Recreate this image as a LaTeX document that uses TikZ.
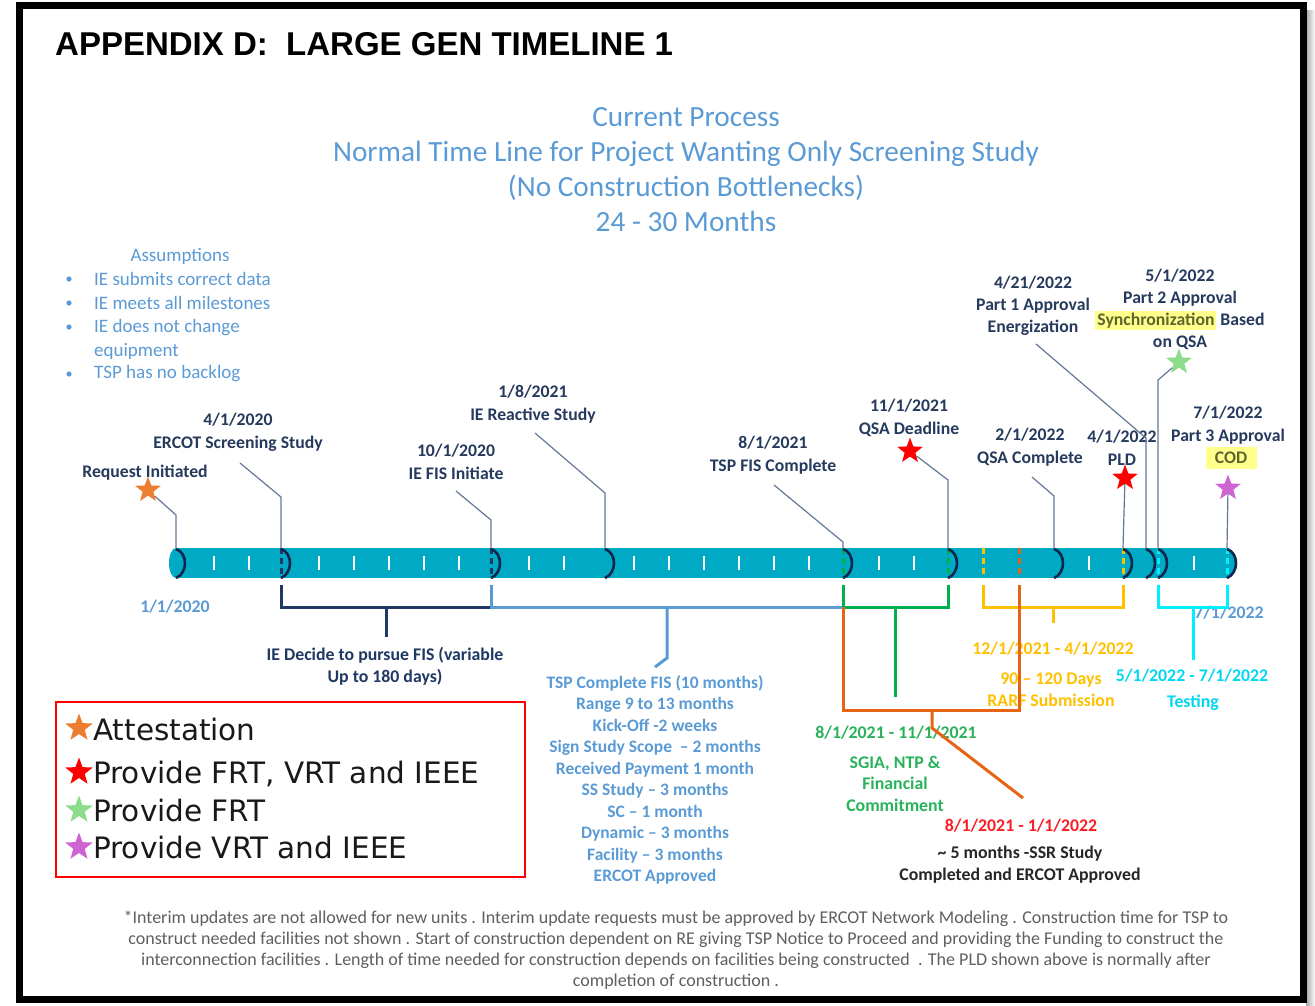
\documentclass[tikz,border=0pt]{standalone}
\usepackage{fontspec}
\setmainfont{Carlito}
\newfontfamily\headfont{Liberation Sans}
\newfontfamily\keyfont{DejaVu Sans}
\usetikzlibrary{shapes.geometric}

\definecolor{ltblue}{RGB}{91,155,213}
\definecolor{labelnavy}{RGB}{38,58,94}
\definecolor{leadgray}{RGB}{100,120,150}
\definecolor{barteal}{RGB}{0,170,196}
\definecolor{arcnavy}{RGB}{18,38,78}
\definecolor{brnavy}{RGB}{31,56,100}
\definecolor{brgreen}{RGB}{0,176,80}
\definecolor{txtgreen}{RGB}{40,178,90}
\definecolor{brorange}{RGB}{230,100,20}
\definecolor{bryellow}{RGB}{255,192,0}
\definecolor{brcyan}{RGB}{0,240,255}
\definecolor{txtcyan}{RGB}{0,215,240}
\definecolor{txtred}{RGB}{250,30,40}
\definecolor{starorange}{RGB}{237,125,49}
\definecolor{stargreen}{RGB}{140,220,140}
\definecolor{starpink}{RGB}{205,100,210}
\definecolor{hilite}{RGB}{255,255,140}
\definecolor{olivetxt}{RGB}{95,100,45}
\definecolor{notegray}{RGB}{95,95,95}

\begin{document}
\begin{tikzpicture}[x=1pt,y=-1pt]
        \tikzstyle{mlabel} = [text=labelnavy,font=\bfseries\fontsize{17.7}{23}\selectfont,align=center,inner sep=0pt]
        \tikzstyle{rangelbl} = [font=\bfseries\fontsize{17.8}{21.5}\selectfont,align=center,inner sep=0pt]
        \tikzstyle{assume} = [font=\fontsize{19}{24}\selectfont,text=ltblue,align=left,inner sep=0pt]
        \tikzstyle{leader} = [draw=leadgray,line width=1.2pt]
        \tikzstyle{starmark} = [star,star points=5,star point ratio=2.4,minimum size=27pt,inner sep=0pt]
        \tikzstyle{arcmark} = [draw=arcnavy,line width=2.6pt]
        \tikzstyle{tickmark} = [draw=white,line width=1.2pt]
        \tikzstyle{bardash} = [line width=3pt,dash pattern=on 6pt off 4pt]
        \tikzstyle{bracket} = [line width=3pt]
        \tikzstyle{keytext} = [font=\keyfont\fontsize{29.5}{31}\selectfont,text=black!90,inner sep=0pt,anchor=base west]

        \useasboundingbox (0,0) rectangle (1315,1005);
        \fill[white] (0,0) rectangle (1315,1005);
        \shade[left color=gray!70,right color=white] (1306,10) rectangle (1315,1005);
        \draw[line width=7pt] (19,5.5) rectangle (1303,999.5);

        \node[anchor=base west,inner sep=0pt,font=\headfont\bfseries\fontsize{33}{36}\selectfont] (title) at (55,55) {APPENDIX D:\ \ LARGE GEN TIMELINE 1};
        \node[font=\fontsize{29.3}{35}\selectfont,text=ltblue,align=center,inner sep=0pt] (subtitle) at (686,170) {Current Process\\Normal Time Line for Project Wanting Only Screening Study\\(No Construction Bottlenecks)\\24 - 30 Months};

        \node[assume] (asmhead) at (180,256) {Assumptions};
        \node[assume,anchor=west] (asm1) at (94,279) {IE submits correct data};
        \node[assume,anchor=west] (asm2) at (94,303) {IE meets all milestones};
        \node[assume,anchor=west] (asm3) at (94,339) {IE does not change\\equipment};
        \node[assume,anchor=west] (asm4) at (94,374) {TSP has no backlog};
        \foreach \yy in {279,303,327,374}
            \fill[ltblue] (69,\yy) circle (2.6);

        \coordinate (t0) at (176,548);
        \coordinate (t3) at (281,548);
        \coordinate (t9) at (491,548);
        \coordinate (t12) at (605,548);
        \coordinate (t19) at (843,548);
        \coordinate (t22) at (948,548);
        \coordinate (t23) at (983,548);
        \coordinate (t24) at (1019,548);
        \coordinate (t25) at (1054,548);
        \coordinate (t27) at (1123,548);
        \coordinate (t27b) at (1146,548);
        \coordinate (t28) at (1158,548);
        \coordinate (t30) at (1227,548);

        \fill[barteal] (176,548) rectangle (1227,578);
        \fill[barteal] (176,563) ellipse (7 and 15);
        \fill[barteal] (1227,548) .. controls (1240,552) and (1240,574) .. (1227,578) -- cycle;
        \foreach \m in {1,2,4,5,6,7,8,10,11,13,14,15,16,17,18,20,21,26,29}
            \draw[tickmark] ({179+35*\m},556) -- ({179+35*\m},570);
        \draw[bardash,draw=brnavy] (t3) -- ++(0,30);
        \draw[bardash,draw=brnavy] (t9) -- ++(0,30);
        \draw[bardash,draw=brgreen] (t19) -- ++(0,30);
        \draw[bardash,draw=brgreen] (t22) -- ++(0,30);
        \draw[bardash,draw=bryellow] (t23) -- ++(0,30);
        \draw[bardash,draw=brorange] (t24) -- ++(0,30);
        \draw[bardash,draw=bryellow] (t27) -- ++(0,30);
        \draw[bardash,draw=brcyan] (t28) -- ++(0,30);
        \draw[bardash,draw=brcyan] (t30) -- ++(0,30);
        \foreach \x in {176,281,491,605,843,948,1054,1123,1146,1158,1227}
            \draw[arcmark] (\x,549) .. controls ({\x+12},553) and ({\x+12},573) .. (\x,578);

        \node[mlabel] (reqlbl) at (145,473) {Request Initiated};
        \node[starmark,fill=starorange] (reqstar) at (148,490) {};
        \coordinate (reqbend) at (176,515);
        \draw[leader] (reqstar) -- (reqbend) -- (t0);

        \node[mlabel] (ercotlbl) at (238,432.5) {4/1/2020\\ERCOT Screening Study};
        \coordinate (ercotfoot) at (240,463);
        \coordinate (ercotbend) at (281,497);
        \draw[leader] (ercotfoot) -- (ercotbend) -- (t3);

        \node[mlabel] (iefislbl) at (456,461.5) {10/1/2020\\IE FIS Initiate};
        \coordinate (iefisfoot) at (456,491);
        \coordinate (iefisbend) at (491,520);
        \draw[leader] (iefisfoot) -- (iefisbend) -- (t9);

        \node[mlabel] (reactlbl) at (533,404.5) {1/8/2021\\IE Reactive Study};
        \coordinate (reactfoot) at (535,433);
        \coordinate (reactbend) at (605,493);
        \draw[leader] (reactfoot) -- (reactbend) -- (t12);

        \node[mlabel] (tspfislbl) at (773,455.5) {8/1/2021\\TSP FIS Complete};
        \coordinate (tspfisfoot) at (774,485);
        \coordinate (tspfisbend) at (843,542);
        \draw[leader] (tspfisfoot) -- (tspfisbend) -- (t19);

        \node[mlabel] (qsadllbl) at (909,418) {11/1/2021\\QSA Deadline};
        \node[starmark,fill=red] (qsadlstar) at (910,451) {};
        \coordinate (qsadlbend) at (948,480);
        \draw[leader] (qsadlstar) -- (qsadlbend) -- (t22);

        \node[mlabel] (qsaclbl) at (1030,447.5) {2/1/2022\\QSA Complete};
        \coordinate (qsacfoot) at (1032,477);
        \coordinate (qsacbend) at (1054,496);
        \draw[leader] (qsacfoot) -- (qsacbend) -- (t25);

        \node[mlabel] (pldlbl) at (1122,447.5) {4/1/2022\\PLD};
        \node[starmark,fill=red] (pldstar) at (1125,478) {};
        \draw[leader] (pldstar) -- (t27);

        \node[mlabel,font=\bfseries\fontsize{17.7}{22}\selectfont] (part1lbl) at (1033,305.5) {4/21/2022\\Part 1 Approval\\Energization};
        \coordinate (part1foot) at (1036,344);
        \coordinate (part1bend) at (1146,438);
        \draw[leader] (part1foot) -- (part1bend) -- (t27b);

        \node[mlabel,font=\bfseries\fontsize{17.7}{22}\selectfont] (part2lbl) at (1180,309) {5/1/2022\\Part 2 Approval\\\setlength{\fboxsep}{2pt}\colorbox{hilite}{\color{olivetxt}Synchronization} Based\\on QSA};
        \node[starmark,fill=stargreen] (part2star) at (1179,362) {};
        \coordinate (part2bend) at (1158,380);
        \draw[leader] (part2star) -- (part2bend) -- (t28);

        \node[mlabel] (part3lbl) at (1228,425.5) {7/1/2022\\Part 3 Approval};
        \node[fill=hilite,text=olivetxt,font=\bfseries\fontsize{17.7}{20}\selectfont,minimum width=51pt,minimum height=22pt,inner sep=0pt] (codbox) at (1231,457.5) {COD};
        \node[starmark,fill=starpink] (part3star) at (1228,488) {};
        \draw[leader] (part3star) -- (t30);

        \coordinate (b3) at (281,585);
        \coordinate (b9) at (491,585);
        \coordinate (b19) at (843,585);
        \coordinate (b22) at (948,585);
        \coordinate (b23) at (983,585);
        \coordinate (b24) at (1019,585);
        \coordinate (b27) at (1123,585);
        \coordinate (b28) at (1158,585);
        \coordinate (b30) at (1227,585);
        \coordinate (k9) at (491,607);
        \coordinate (k19) at (843,607);
        \coordinate (k22) at (948,607);
        \coordinate (k27) at (1123,607);
        \coordinate (k30) at (1227,607);

        \node[rangelbl,text=ltblue] (startdate) at (175,607) {1/1/2020};
        \node[rangelbl,text=ltblue] (enddate) at (1229,613) {7/1/2022};

        \coordinate (navytop) at (386,607);
        \coordinate (navybot) at (386,637);
        \draw[bracket,draw=brnavy] (b3) |- (k9);
        \draw[bracket,draw=brnavy] (navytop) -- (navybot);
        \node[mlabel,text=brnavy,font=\bfseries\fontsize{17.8}{22}\selectfont] (navylbl) at (385,666) {IE Decide to pursue FIS (variable\\Up to 180 days)};

        \coordinate (bluetop) at (667,607);
        \coordinate (bluebend) at (667,658);
        \coordinate (bluebot) at (655,667);
        \draw[bracket,draw=ltblue] (b9) -- (k9) -- (k19);
        \draw[bracket,draw=ltblue] (bluetop) -- (bluebend) -- (bluebot);
        \node[rangelbl,text=ltblue,font=\bfseries\fontsize{17.5}{21.5}\selectfont] (tsplist) at (655,780) {TSP Complete FIS (10 months)\\Range 9 to 13 months\\Kick-Off -2 weeks\\Sign Study Scope\ \ – 2 months\\Received Payment 1 month\\SS Study – 3 months\\SC – 1 month\\Dynamic – 3 months\\Facility – 3 months\\ERCOT Approved};

        \coordinate (greentop) at (895,607);
        \coordinate (greenbot) at (895,697);
        \draw[bracket,draw=brgreen] (b19) |- (k22) -- (b22);
        \draw[bracket,draw=brgreen] (greentop) -- (greenbot);
        \node[rangelbl,text=txtgreen] (greendate) at (896,733) {8/1/2021 - 11/1/2021};
        \node[rangelbl,text=txtgreen] (greentext) at (895,783.5) {SGIA, NTP \&\\Financial\\Commitment};

        \coordinate (yellowtop) at (1053,607);
        \coordinate (yellowbot) at (1053,623);
        \draw[bracket,draw=bryellow] (b23) |- (k27) -- (b27);
        \draw[bracket,draw=bryellow] (yellowtop) -- (yellowbot);
        \node[rangelbl,text=bryellow] (yellowdate) at (1053,649) {12/1/2021 - 4/1/2022};
        \node[rangelbl,text=bryellow] (yellowtext) at (1051,689.5) {90 – 120 Days\\RARF Submission};

        \coordinate (cyantop) at (1193,607);
        \coordinate (cyanbot) at (1193,660);
        \draw[bracket,draw=brcyan] (b28) |- (k30) -- (b30);
        \draw[bracket,draw=brcyan] (cyantop) -- (cyanbot);
        \node[rangelbl,text=txtcyan] (cyandate) at (1192,676) {5/1/2022 - 7/1/2022};
        \node[rangelbl,text=txtcyan] (cyantext) at (1193,703) {Testing};

        \coordinate (orangeleft) at (843,710);
        \coordinate (orangeright) at (1019,710);
        \coordinate (orangetop) at (932,710);
        \coordinate (orangebend) at (932,728);
        \coordinate (orangebot) at (1023,798);
        \draw[bracket,draw=brorange] (k19) -- (orangeleft) -- (orangeright) -- (b24);
        \draw[bracket,draw=brorange] (orangetop) -- (orangebend) -- (orangebot);
        \node[rangelbl,text=txtred] (reddate) at (1021,826) {8/1/2021 - 1/1/2022};
        \node[rangelbl,text=black!85] (redtext) at (1020,864.5) {\textasciitilde{} 5 months -SSR Study\\Completed and ERCOT Approved};

        \node[draw=red,line width=2.5pt,minimum width=469pt,minimum height=175pt,inner sep=0pt] (keybox) at (290.5,789.5) {};
        \node[starmark,fill=starorange,minimum size=29pt] (keystar1) at (79,728) {};
        \node[starmark,fill=red,minimum size=29pt] (keystar2) at (79,772) {};
        \node[starmark,fill=stargreen,minimum size=29pt] (keystar3) at (79,810) {};
        \node[starmark,fill=starpink,minimum size=29pt] (keystar4) at (79,847) {};
        \node[keytext] (key1) at (93,740) {Attestation};
        \node[keytext] (key2) at (93,783) {Provide FRT, VRT and IEEE};
        \node[keytext] (key3) at (93,821) {Provide FRT};
        \node[keytext] (key4) at (93,858) {Provide VRT and IEEE};

        \node[font=\fontsize{18}{21.3}\selectfont,text=notegray,align=center,inner sep=0pt] (footnote) at (676,950) {*Interim updates are not allowed for new units . Interim update requests must be approved by ERCOT Network Modeling . Construction time for TSP to\\construct needed facilities not shown . Start of construction dependent on RE giving TSP Notice to Proceed and providing the Funding to construct the\\interconnection facilities . Length of time needed for construction depends on facilities being constructed\ \ . The PLD shown above is normally after\\completion of construction .};
    \end{tikzpicture}
\end{document}
